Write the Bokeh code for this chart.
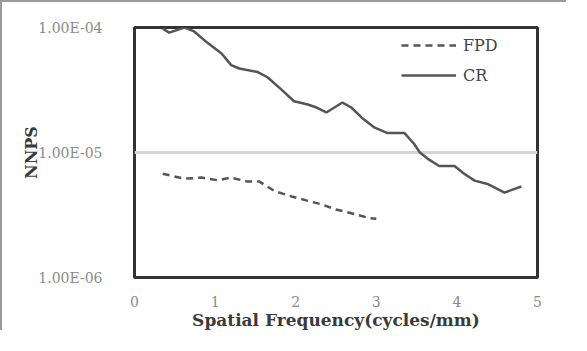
from bokeh.plotting import figure
from bokeh.models import Legend, LegendItem, FixedTicker, CustomJSTickFormatter
from bokeh.embed import file_html
from bokeh.resources import INLINE

# CR NNPS curve
cr_x = [0.35, 0.43, 0.62, 0.74, 0.91, 1.08, 1.2, 1.3, 1.53, 1.65, 1.82, 1.98, 2.15, 2.26, 2.38,
        2.48, 2.58, 2.69, 2.82, 2.98, 3.14, 3.35, 3.47, 3.54, 3.64, 3.78, 3.97, 4.09, 4.22,
        4.38, 4.59, 4.8]
cr_y = [9.8e-5, 9.1e-5, 1.0e-4, 9.3e-5, 7.5e-5, 6.2e-5, 5.0e-5, 4.7e-5, 4.4e-5, 4.0e-5, 3.2e-5,
        2.57e-5, 2.42e-5, 2.29e-5, 2.09e-5, 2.29e-5, 2.51e-5, 2.29e-5, 1.9e-5, 1.58e-5,
        1.43e-5, 1.43e-5, 1.17e-5, 1.0e-5, 8.9e-6, 7.8e-6, 7.8e-6, 6.76e-6, 5.96e-6, 5.6e-6,
        4.78e-6, 5.35e-6]

# FPD NNPS curve
fpd_x = [0.35, 0.62, 0.83, 1.03, 1.2, 1.4, 1.55, 1.74, 1.95, 2.13, 2.32, 2.5, 2.69, 2.92, 3.0]
fpd_y = [6.76e-6, 6.17e-6, 6.3e-6, 6.0e-6, 6.3e-6, 5.85e-6, 5.85e-6, 4.9e-6, 4.45e-6, 4.14e-6,
         3.85e-6, 3.5e-6, 3.27e-6, 2.98e-6, 2.95e-6]

x_ticks = [0, 1, 2, 3, 4, 5]
y_ticks = [1e-6, 1e-5, 1e-4]

SERIF = "DejaVu Serif"

p = figure(width=566, height=330, output_backend="svg", toolbar_location=None,
           x_range=(0, 5), y_range=(1e-6, 1e-4), y_axis_type="log",
           min_border_left=132, min_border_right=31, min_border_top=25, min_border_bottom=52)

p.styles = {"border-top": "2px solid #9a9a9a", "border-left": "2px solid #9a9a9a"}

p.outline_line_color = "#333333"
p.outline_line_width = 3
p.background_fill_color = "white"
p.border_fill_color = "white"

p.xgrid.visible = False
p.ygrid.grid_line_color = "#d4d4d4"
p.ygrid.grid_line_width = 3

p.xaxis.ticker = FixedTicker(ticks=x_ticks)
p.yaxis.ticker = FixedTicker(ticks=y_ticks)
p.yaxis.formatter = CustomJSTickFormatter(code="""
    const s = tick.toExponential(2).toUpperCase();
    return s.replace(/E([-+])(\\d)$/, 'E$10$2');
""")

for ax in (p.xaxis, p.yaxis):
    ax.axis_line_color = None
    ax.major_tick_line_color = None
    ax.minor_tick_line_color = None
    ax.major_label_text_font = SERIF
    ax.major_label_text_color = "#8a8a8a"
    ax.major_label_text_font_size = "14px"
    ax.axis_label_text_font = SERIF
    ax.axis_label_text_font_style = "bold"
    ax.axis_label_text_color = "#3a3a3a"

p.xaxis.axis_label_text_font_size = "17px"
p.yaxis.axis_label_text_font_size = "16px"
p.xaxis.major_label_standoff = 12
p.yaxis.major_label_standoff = 26
p.xaxis.axis_label = "Spatial Frequency(cycles/mm)"
p.xaxis.axis_label_standoff = 0
p.yaxis.axis_label = "NNPS"
p.yaxis.axis_label_standoff = -6

r_fpd = p.line(fpd_x, fpd_y, line_color="#555555", line_width=2.5, line_dash="7 5")
r_cr = p.line(cr_x, cr_y, line_color="#555555", line_width=2.5)

legend = Legend(items=[LegendItem(label="FPD", renderers=[r_fpd]),
                       LegendItem(label="CR", renderers=[r_cr])],
                location=(267, 192))
legend.padding = 0
legend.margin = 0
legend.spacing = 10
legend.glyph_width = 55
legend.glyph_height = 20
legend.label_height = 20
legend.label_standoff = 7
legend.border_line_color = None
legend.background_fill_alpha = 0
legend.label_text_font = SERIF
legend.label_text_font_size = "16px"
legend.label_text_color = "#444444"
p.add_layout(legend, "center")

open("out.html", "w").write(file_html(p, INLINE))
